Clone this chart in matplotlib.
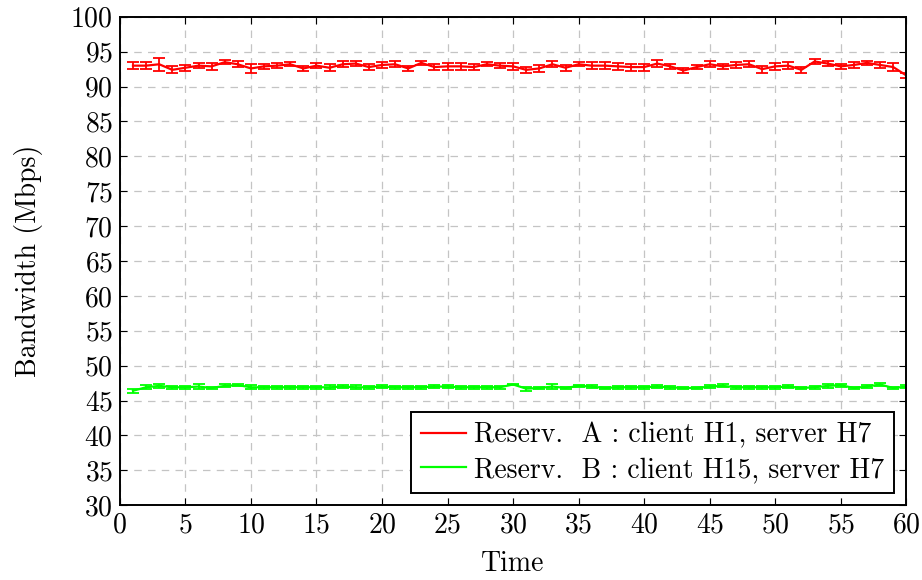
import numpy as np
import matplotlib
matplotlib.use("Agg")
import matplotlib.pyplot as plt
from matplotlib.lines import Line2D

# --- Data ------------------------------------------------------------------
time = list(range(1, 61))

bw_a = [93.0, 93.0, 93.2, 92.4, 92.7, 93.0, 92.9, 93.5, 93.2, 92.6,
        92.9, 93.0, 93.2, 92.6, 93.0, 92.7, 93.2, 93.3, 92.8, 93.1,
        93.2, 92.6, 93.4, 92.8, 92.9, 92.9, 92.8, 93.2, 93.0, 92.9,
        92.4, 92.6, 93.2, 92.7, 93.2, 93.0, 93.0, 92.9, 92.8, 92.8,
        93.3, 92.9, 92.3, 92.8, 93.2, 92.9, 93.1, 93.2, 92.5, 92.9,
        93.0, 92.4, 93.6, 93.3, 92.9, 93.1, 93.4, 93.1, 92.8, 91.6]
err_a = [0.5, 0.5, 0.9, 0.5, 0.4, 0.4, 0.5, 0.3, 0.4, 0.7,
         0.4, 0.4, 0.3, 0.4, 0.4, 0.5, 0.4, 0.4, 0.4, 0.4,
         0.4, 0.4, 0.3, 0.4, 0.5, 0.5, 0.4, 0.3, 0.4, 0.5,
         0.4, 0.5, 0.4, 0.4, 0.3, 0.5, 0.5, 0.5, 0.5, 0.5,
         0.5, 0.4, 0.4, 0.3, 0.4, 0.4, 0.4, 0.4, 0.5, 0.5,
         0.5, 0.4, 0.3, 0.4, 0.4, 0.4, 0.3, 0.4, 0.6, 0.3]

bw_b = [46.4, 46.9, 47.1, 46.9, 46.9, 47.0, 46.8, 47.1, 47.2, 46.9,
        46.9, 46.9, 46.9, 46.9, 46.9, 46.9, 47.0, 46.9, 46.9, 47.0,
        46.9, 46.9, 46.9, 47.0, 47.0, 46.9, 46.9, 46.9, 46.9, 47.3,
        46.7, 46.8, 47.0, 46.8, 47.1, 47.0, 46.8, 46.9, 46.9, 46.9,
        47.0, 46.9, 46.8, 46.8, 47.0, 47.1, 46.9, 46.9, 46.9, 46.9,
        47.0, 46.8, 46.9, 47.1, 47.2, 46.8, 47.0, 47.3, 46.8, 47.0]
err_b = [0.3, 0.3, 0.3, 0.2, 0.2, 0.3, 0.2, 0.2, 0.1, 0.3,
         0.2, 0.2, 0.2, 0.2, 0.2, 0.3, 0.2, 0.3, 0.2, 0.2,
         0.2, 0.2, 0.2, 0.2, 0.2, 0.2, 0.2, 0.2, 0.2, 0.1,
         0.3, 0.2, 0.3, 0.2, 0.1, 0.2, 0.2, 0.2, 0.2, 0.2,
         0.2, 0.2, 0.2, 0.2, 0.2, 0.2, 0.2, 0.2, 0.2, 0.2,
         0.2, 0.2, 0.2, 0.3, 0.2, 0.2, 0.2, 0.2, 0.2, 0.2]

labels = ["Reserv.  A : client H1, server H7",
          "Reserv.  B : client H15, server H7"]
colors = ["#ff0000", "#00ff00"]

# --- Style -------------------------------------------------------------------
plt.rcParams["font.family"] = "serif"
plt.rcParams["font.serif"] = ["cmr10", "DejaVu Serif"]
plt.rcParams["mathtext.fontset"] = "cm"
plt.rcParams["axes.formatter.use_mathtext"] = True
FS = 20

fig = plt.figure(figsize=(9.22, 5.80), dpi=100)
ax = fig.add_axes([0.130, 0.129, 0.853, 0.842])

for y, e, c in [(bw_a, err_a, colors[0]), (bw_b, err_b, colors[1])]:
    ax.errorbar(time, y, yerr=e, color=c, lw=1.6,
                capsize=4, elinewidth=1.3, capthick=1.3)

ax.set_xlim(0, 60)
ax.set_ylim(30, 100)
ax.set_xticks(np.arange(0, 61, 5))
ax.set_yticks(np.arange(30, 101, 5))
ax.grid(True, color="#c4c4c4", linestyle=(0, (6, 5)), lw=0.9)
ax.set_axisbelow(True)
ax.tick_params(direction="in", length=5, width=0.8, labelsize=FS,
               top=True, right=True, pad=5)
for s in ax.spines.values():
    s.set_linewidth(1.4)

ax.set_xlabel("Time", fontsize=FS, labelpad=9)
ax.set_ylabel("Bandwidth (Mbps)", fontsize=FS, labelpad=20)

handles = [Line2D([], [], color=c, lw=1.6) for c in colors]
leg = ax.legend(handles, labels, loc="lower right", fontsize=FS,
                fancybox=False, framealpha=1, edgecolor="black",
                borderpad=0.35, handlelength=1.6, handletextpad=0.3,
                labelspacing=0.3, borderaxespad=0.45)
leg.get_frame().set_linewidth(1.4)

fig.savefig("out.png", dpi=100)
